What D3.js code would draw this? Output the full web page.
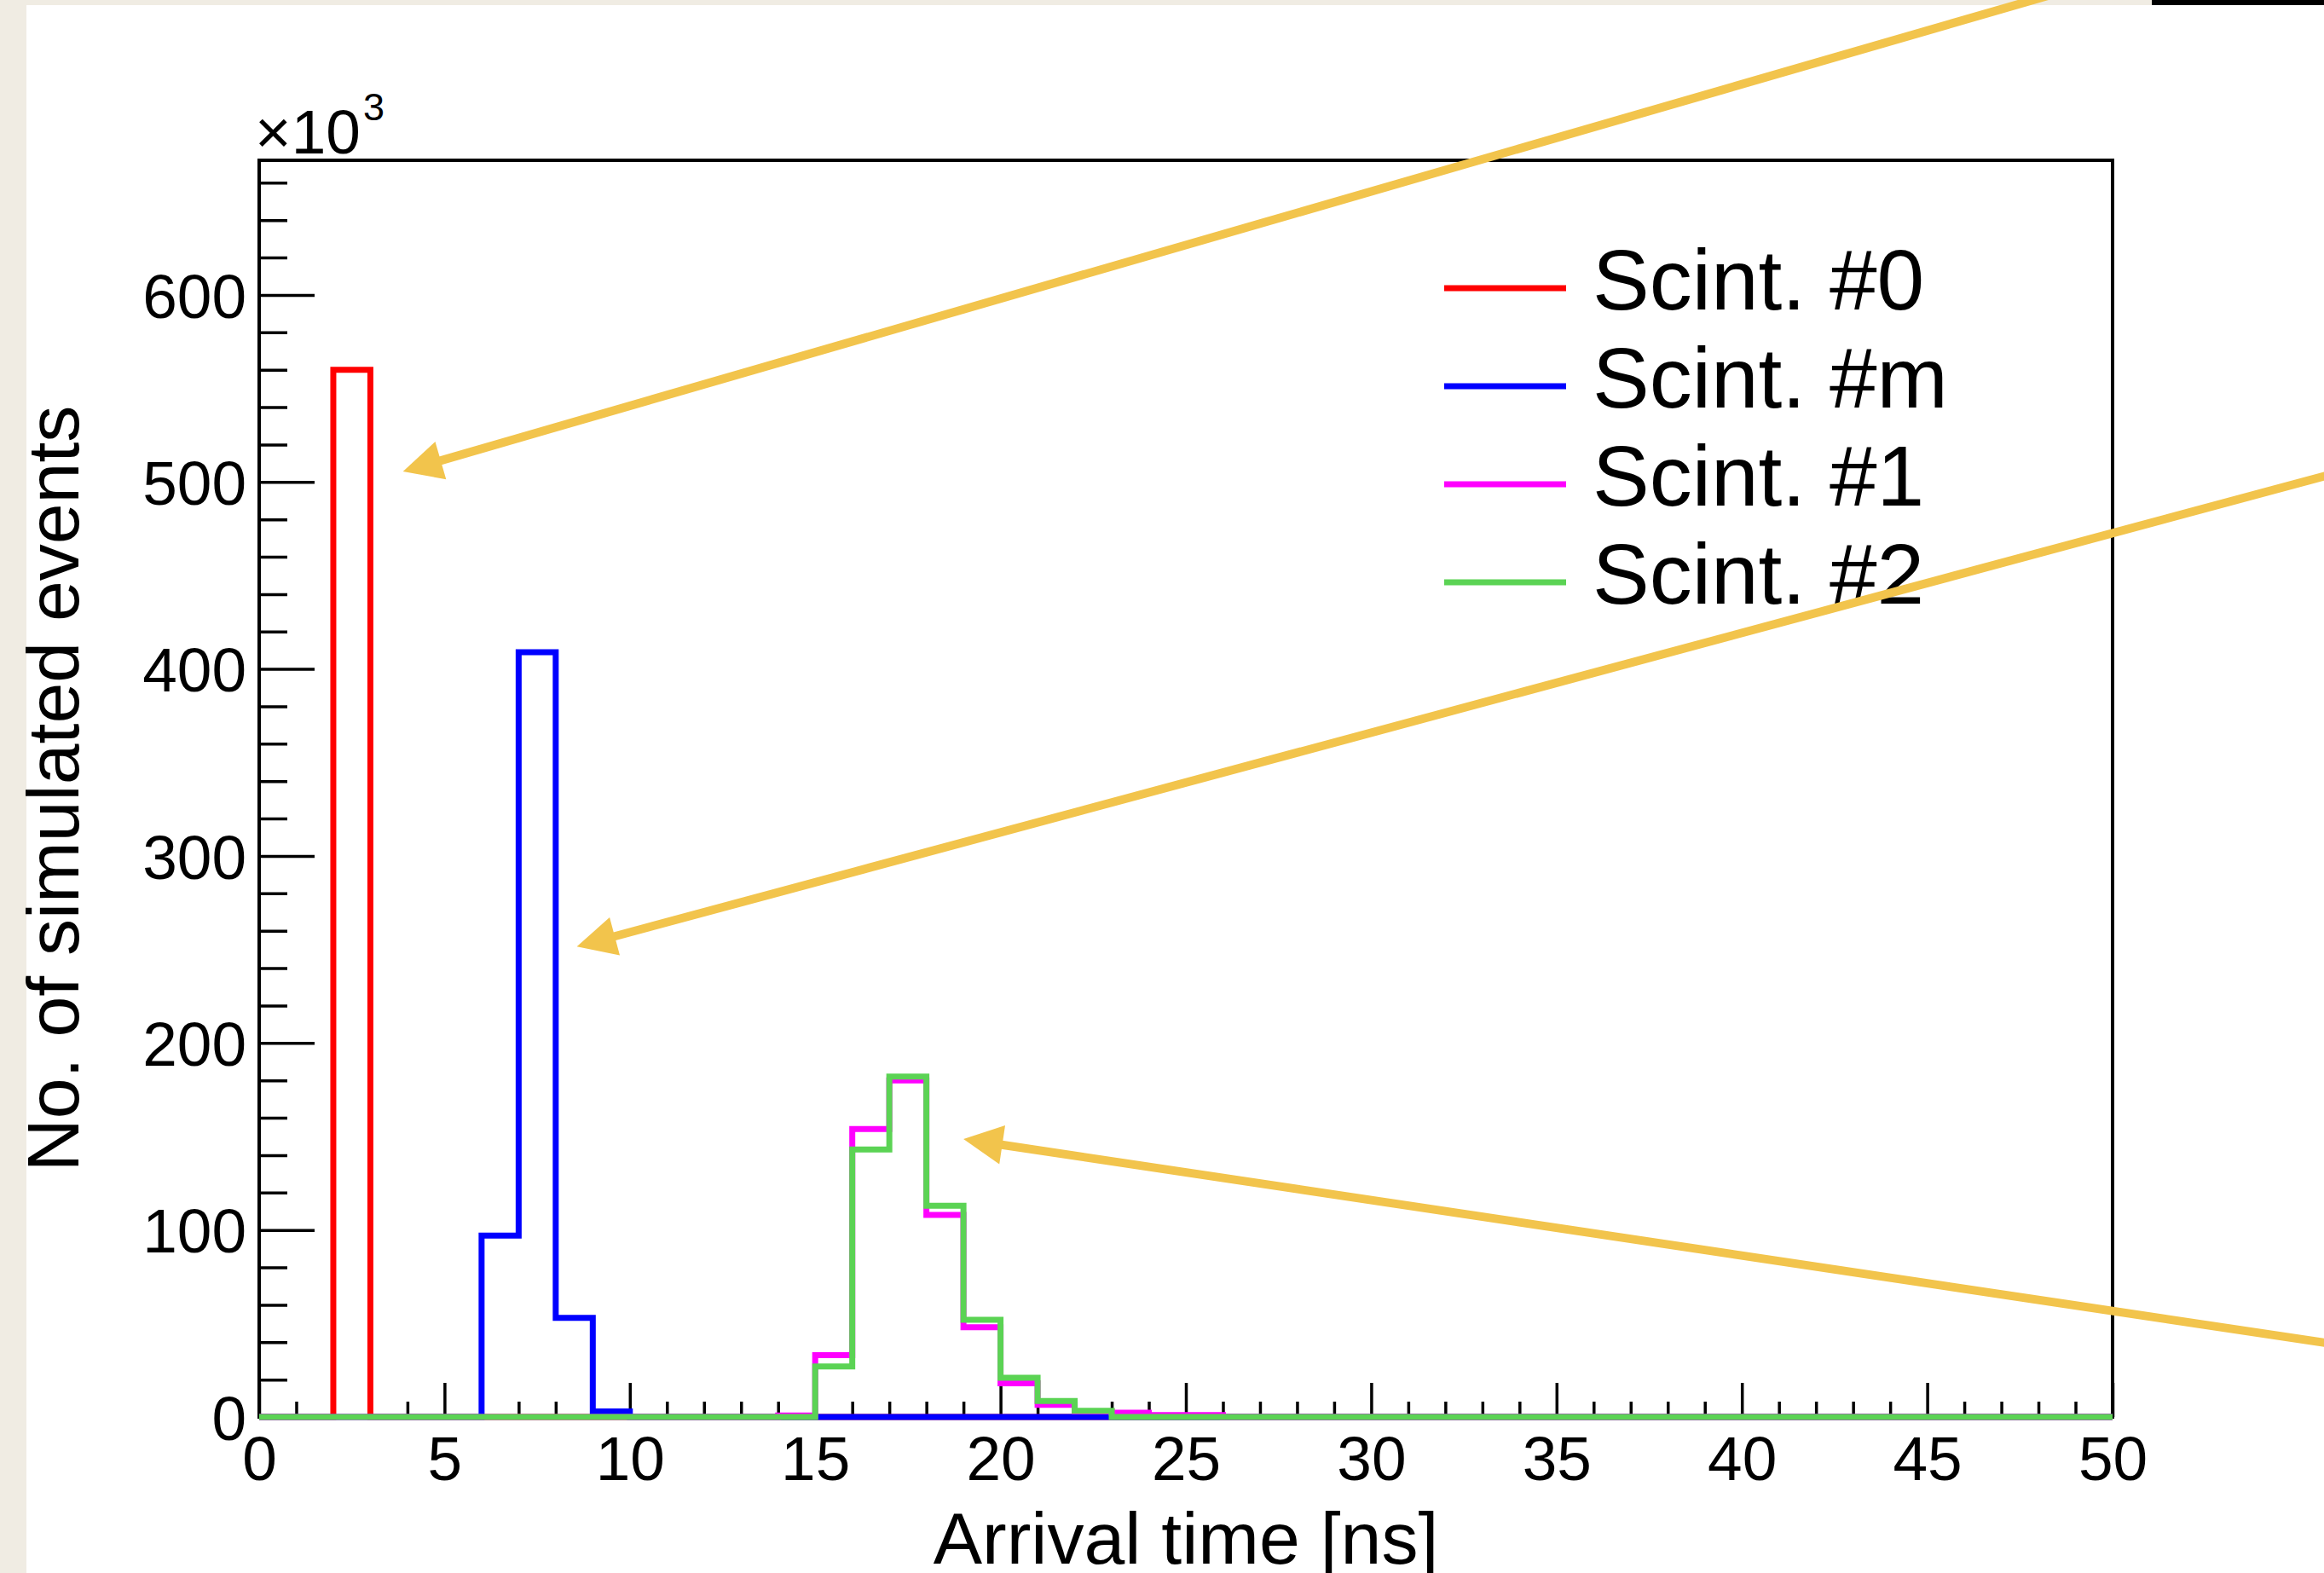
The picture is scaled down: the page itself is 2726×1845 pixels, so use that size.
<!DOCTYPE html>
<html>
<head>
<meta charset="utf-8">
<script src="https://cdn.jsdelivr.net/npm/d3@7"></script>
<style>
  html, body { margin: 0; padding: 0; background: #ffffff; }
  svg { display: block; }
  text { font-family: "Liberation Sans", Arial, Helvetica, sans-serif; fill: #000; }
</style>
</head>
<body>
<svg id="chart" width="2726" height="1845"></svg>
<script>
// Arrival-time histograms, 1 ns bins from 0 to 50 ns, counts in units of 10^3
const binEdges = d3.range(0, 51);

const scint0 = [0, 0, 560, 0, 0, 0, 0, 0, 0, 0,
                0, 0, 0, 0, 0, 0, 0, 0, 0, 0,
                0, 0, 0, 0, 0, 0, 0, 0, 0, 0,
                0, 0, 0, 0, 0, 0, 0, 0, 0, 0,
                0, 0, 0, 0, 0, 0, 0, 0, 0, 0];

const scintM = [0, 0, 0, 0, 0, 0, 97, 409, 53, 3,
                0, 0, 0, 0, 0, 0, 0, 0, 0, 0,
                0, 0, 0, 0, 0, 0, 0, 0, 0, 0,
                0, 0, 0, 0, 0, 0, 0, 0, 0, 0,
                0, 0, 0, 0, 0, 0, 0, 0, 0, 0];

const scint1 = [0, 0, 0, 0, 0, 0, 0, 0, 0, 0,
                0, 0, 0, 0, 0.8, 33, 154, 180, 108, 48,
                18, 6.5, 3, 2.3, 1, 1, 0, 0, 0, 0,
                0, 0, 0, 0, 0, 0, 0, 0, 0, 0,
                0, 0, 0, 0, 0, 0, 0, 0, 0, 0];

const scint2 = [0, 0, 0, 0, 0, 0, 0, 0, 0, 0,
                0, 0, 0, 0, 0, 27, 143, 182, 113, 52,
                21, 8.5, 3.3, 0, 0, 0, 0, 0, 0, 0,
                0, 0, 0, 0, 0, 0, 0, 0, 0, 0,
                0, 0, 0, 0, 0, 0, 0, 0, 0, 0];

const seriesNames = ["Scint. #0", "Scint. #m", "Scint. #1", "Scint. #2"];
const seriesColors = ["#ff0000", "#0000ff", "#ff00ff", "#5bd354"];
const seriesValues = [scint0, scintM, scint1, scint2];

const xTickLabels = d3.range(0, 51, 5);
const xMinorTicks = d3.range(0, 51, 1).filter(v => v % 5 !== 0);
const yTickLabels = d3.range(0, 601, 100);
const yMinorTicks = d3.range(0, 661, 20).filter(v => v % 100 !== 0);
const yMax = 672;

// Annotation arrows, tail and tip given in data units (ns, 10^3 events)
const arrows = [
  { tail: [50.0, 770.0], tip: [3.88, 505.6] },
  { tail: [56.5, 507.3], tip: [8.57, 251.6] },
  { tail: [56.5, 37.4],  tip: [19.0, 148.6] }
];

const W = 2726, H = 1845;
const plot = { left: 304, right: 2478, top: 188, bottom: 1662 };

const svg = d3.select("#chart");

// page background: beige border strips and a dark bar at top right
svg.append("rect").attr("x", 0).attr("y", 0).attr("width", W).attr("height", H).attr("fill", "#ffffff");
svg.append("rect").attr("x", 0).attr("y", 0).attr("width", 31).attr("height", H).attr("fill", "#f0ece3");
svg.append("rect").attr("x", 0).attr("y", 0).attr("width", 2524).attr("height", 6).attr("fill", "#f0ece3");
svg.append("rect").attr("x", 2524).attr("y", 0).attr("width", W - 2524).attr("height", 6).attr("fill", "#000000");

const x = d3.scaleLinear().domain([0, 50]).range([plot.left, plot.right]);
const y = d3.scaleLinear().domain([0, yMax]).range([plot.bottom, plot.top]);

// frame
svg.append("rect")
  .attr("x", plot.left).attr("y", plot.top)
  .attr("width", plot.right - plot.left).attr("height", plot.bottom - plot.top)
  .attr("fill", "none").attr("stroke", "#000").attr("stroke-width", 4);

function styleAxis(g, fontSize) {
  g.select(".domain").remove();
  g.selectAll(".tick line").attr("stroke", "#000").attr("stroke-width", 3.5);
  g.selectAll(".tick text").attr("font-size", fontSize)
    .attr("font-family", "'Liberation Sans', Arial, Helvetica, sans-serif")
    .attr("fill", "#000");
  g.attr("font-family", null).attr("font-size", null);
}

// x axis: major and minor ticks pointing into the frame
const gxMinor = svg.append("g").attr("transform", `translate(0,${plot.bottom})`)
  .call(d3.axisBottom(x).tickValues(xMinorTicks).tickFormat("").tickSizeInner(-18).tickSizeOuter(0));
styleAxis(gxMinor, 73);
const gx = svg.append("g").attr("transform", `translate(0,${plot.bottom})`)
  .call(d3.axisBottom(x).tickValues(xTickLabels).tickFormat(d3.format("d"))
        .tickSizeInner(-40).tickSizeOuter(0).tickPadding(22));
styleAxis(gx, 73);

// y axis
const gyMinor = svg.append("g").attr("transform", `translate(${plot.left},0)`)
  .call(d3.axisLeft(y).tickValues(yMinorTicks).tickFormat("").tickSizeInner(-33).tickSizeOuter(0));
styleAxis(gyMinor, 73);
const gy = svg.append("g").attr("transform", `translate(${plot.left},0)`)
  .call(d3.axisLeft(y).tickValues(yTickLabels).tickFormat(d3.format("d"))
        .tickSizeInner(-65).tickSizeOuter(0).tickPadding(15));
styleAxis(gy, 73);
gy.selectAll(".tick text").attr("dy", "0.36em");

// exponent marker above the y axis
svg.append("text").attr("x", 299).attr("y", 180).attr("font-size", 73).text("×10");
svg.append("text").attr("x", 426).attr("y", 141).attr("font-size", 45).text("3");

// axis titles
svg.append("text")
  .attr("x", (plot.left + plot.right) / 2).attr("y", 1834)
  .attr("text-anchor", "middle").attr("font-size", 86)
  .text("Arrival time [ns]");
svg.append("text")
  .attr("transform", `translate(92,${(plot.top + plot.bottom) / 2}) rotate(-90)`)
  .attr("text-anchor", "middle").attr("font-size", 86)
  .text("No. of simulated events");

// step outlines for each histogram
const stepLine = d3.line().x(d => x(d[0])).y(d => y(d[1]));
seriesValues.forEach((vals, s) => {
  const pts = [];
  vals.forEach((v, i) => { pts.push([binEdges[i], v]); pts.push([binEdges[i + 1], v]); });
  svg.append("path")
    .attr("d", stepLine(pts))
    .attr("fill", "none")
    .attr("stroke", seriesColors[s])
    .attr("stroke-width", 7)
    .attr("stroke-linejoin", "miter");
});

// legend
const legendRow = d3.scalePoint().domain(seriesNames).range([338, 683]);
const legend = svg.append("g");
seriesNames.forEach((name, i) => {
  const ly = legendRow(name);
  legend.append("line")
    .attr("x1", 1694).attr("x2", 1837).attr("y1", ly).attr("y2", ly)
    .attr("stroke", seriesColors[i]).attr("stroke-width", 7);
  legend.append("text")
    .attr("x", 1868).attr("y", ly + 25)
    .attr("font-size", 100)
    .text(name);
});

// annotation arrows
const arrowColor = "#f2c44c";
const headLen = 46, headHalf = 23;
arrows.forEach(a => {
  const tx = x(a.tail[0]), ty = y(a.tail[1]);
  const px = x(a.tip[0]),  py = y(a.tip[1]);
  const len = Math.hypot(tx - px, ty - py);
  const ux = (tx - px) / len, uy = (ty - py) / len;
  const bx = px + ux * headLen, by = py + uy * headLen;
  svg.append("line")
    .attr("x1", tx).attr("y1", ty).attr("x2", bx - ux * 4).attr("y2", by - uy * 4)
    .attr("stroke", arrowColor).attr("stroke-width", 10);
  svg.append("path")
    .attr("d", `M${px},${py} L${bx - uy * headHalf},${by + ux * headHalf} L${bx + uy * headHalf},${by - ux * headHalf} Z`)
    .attr("fill", arrowColor);
});
</script>
</body>
</html>
